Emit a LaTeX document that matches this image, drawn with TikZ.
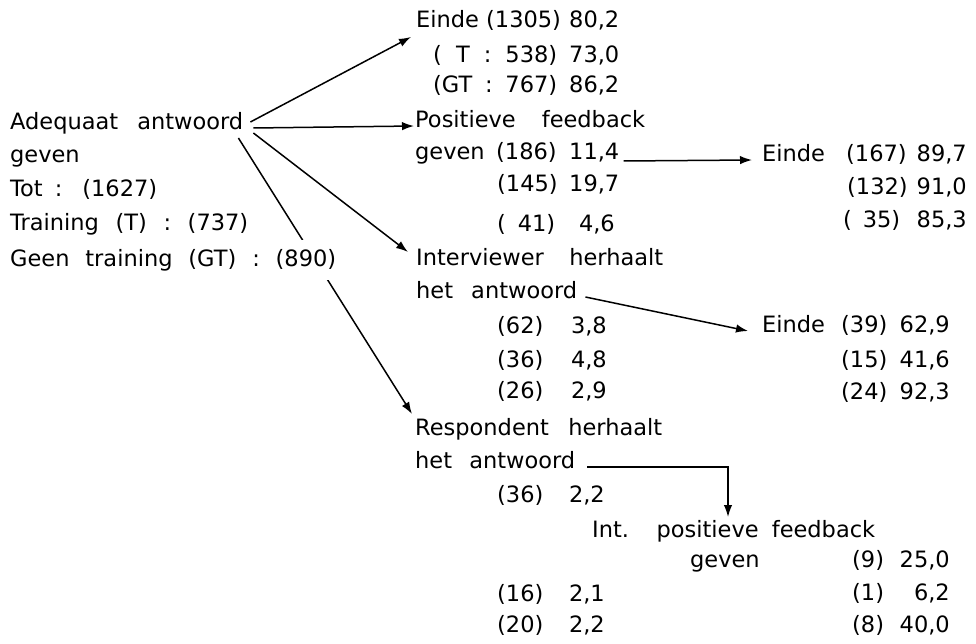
\documentclass[tikz,border=0pt]{standalone}
\usepackage{fontspec}
\setmainfont{DejaVu Sans}
\usetikzlibrary{arrows.meta,backgrounds}

\tikzset{
  tx/.style={anchor=base west, inner sep=0pt, font=\fontsize{22.5}{28}\selectfont},
  rx/.style={tx, anchor=base east},
  conn/.style={line width=1.5pt, -{Latex[length=12pt,width=8.5pt]}},
}
% a line of text spread to a fixed width, its word spaces stretched
\newcommand{\wbox}[2]{\makebox[#1pt][s]{#2}}

\begin{document}
\begin{tikzpicture}[x=1pt,y=-1pt]
\begin{pgfonlayer}{background}
  \fill[white] (0,0) rectangle (976,644);
\end{pgfonlayer}
\useasboundingbox (0,0) rectangle (976,644);

% starting situation
\node[tx] (ad)  at (10,130) {\wbox{233}{Adequaat antwoord}};
\node[tx] (adg) at (10,163) {geven};
\node[tx] (tot) at (10,197) {\wbox{147}{Tot : (1627)}};
\node[tx] (trn) at (10,230) {\wbox{238}{Training (T) : (737)}};
\node[tx, fill=white, inner ysep=9pt] (gtr) at (10,266) {\wbox{326}{Geen training (GT) : (890)}};

% Einde (1305)
\node[tx] (e1)   at (416,28) {Einde};
\node[tx] (e1n)  at (486,28) {(1305)};
\node[tx] (e1p)  at (569,28) {80,2};
\node[tx] (e1t)  at (433,63) {\wbox{124}{( T : 538)}};
\node[tx] (e1tp) at (569,63) {73,0};
\node[tx] (e1g)  at (433,93) {\wbox{124}{(GT : 767)}};
\node[tx] (e1gp) at (569,93) {86,2};

% Positieve feedback geven
\node[tx] (pf)   at (415,128) {\wbox{230}{Positieve feedback}};
\node[tx] (pfg)  at (415,160) {geven};
\node[tx] (pfn)  at (496,160) {(186)};
\node[tx] (pfp)  at (569,160) {11,4};
\node[tx] (pfn2) at (497,192) {(145)};
\node[tx] (pfp2) at (569,192) {19,7};
\node[tx] (pfn3) at (497,232) {\wbox{58}{( 41)}};
\node[rx] (pfp3) at (615,232) {4,6};

% Einde (167)
\node[tx] (e2)   at (762,162) {Einde};
\node[tx] (e2n)  at (846,162) {(167)};
\node[rx] (e2p)  at (967,162) {89,7};
\node[tx] (e2n2) at (847,195) {(132)};
\node[rx] (e2p2) at (967,195) {91,0};
\node[tx] (e2n3) at (843,228) {\wbox{57}{( 35)}};
\node[rx] (e2p3) at (967,228) {85,3};

% Interviewer herhaalt het antwoord
\node[tx] (iv)   at (416,265) {\wbox{247}{Interviewer herhaalt}};
\node[tx] (iva)  at (416,298) {\wbox{161}{het antwoord}};
\node[tx] (ivn1) at (497,333) {(62)};
\node[rx] (ivp1) at (607,333) {3,8};
\node[tx] (ivn2) at (497,367) {(36)};
\node[rx] (ivp2) at (607,367) {4,8};
\node[tx] (ivn3) at (497,398) {(26)};
\node[rx] (ivp3) at (607,398) {2,9};

% Einde (39)
\node[tx] (e3)   at (762,332) {Einde};
\node[tx] (e3n1) at (841,332) {(39)};
\node[rx] (e3p1) at (950,332) {62,9};
\node[tx] (e3n2) at (841,367) {(15)};
\node[rx] (e3p2) at (950,367) {41,6};
\node[tx] (e3n3) at (841,399) {(24)};
\node[rx] (e3p3) at (950,399) {92,3};

% Respondent herhaalt het antwoord
\node[tx] (rs)   at (415,435) {\wbox{247}{Respondent herhaalt}};
\node[tx] (rsa)  at (415,468) {\wbox{160}{het antwoord}};
\node[tx] (rsn1) at (497,502) {(36)};
\node[rx] (rsp1) at (605,502) {2,2};
\node[tx] (rsn2) at (497,601) {(16)};
\node[rx] (rsp2) at (605,601) {2,1};
\node[tx] (rsn3) at (497,632) {(20)};
\node[rx] (rsp3) at (605,632) {2,2};

% Int. positieve feedback geven
\node[tx] (ip)   at (592,537) {\wbox{283}{Int. positieve feedback}};
\node[tx] (ipg)  at (690,567) {geven};
\node[tx] (ipn1) at (852,567) {(9)};
\node[rx] (ipp1) at (950,567) {25,0};
\node[tx] (ipn2) at (852,600) {(1)};
\node[rx] (ipp2) at (950,600) {6,2};
\node[tx] (ipn3) at (852,632) {(8)};
\node[rx] (ipp3) at (950,632) {40,0};

% connectors, kept behind the text
\begin{pgfonlayer}{background}
  \draw[conn] ([shift={(7,-8)}]ad.base east)  -- ([shift={(-5,9)}]e1.base west);
  \draw[conn] ([shift={(10,-2)}]ad.base east) -- ([shift={(-1,-2)}]pf.base west);
  \draw[conn] ([shift={(10,3)}]ad.base east)  -- ([shift={(-8,-13)}]iv.base west);
  \draw[conn] ([shift={(-5,8)}]ad.base east)  -- ([shift={(-3,-21)}]rs.base west);
  \draw[conn] ([shift={(4,1)}]pfp.base east)  -- ([shift={(-10,-2)}]e2.base west);
  \draw[conn] ([shift={(8,-1)}]iva.base east) -- ([shift={(-14,-1)}]e3.base west);
  \draw[conn] ([shift={(12,-1)}]rsa.base east) -| ([shift={(136,-20)}]ip.base west);
\end{pgfonlayer}
\end{tikzpicture}
\end{document}
